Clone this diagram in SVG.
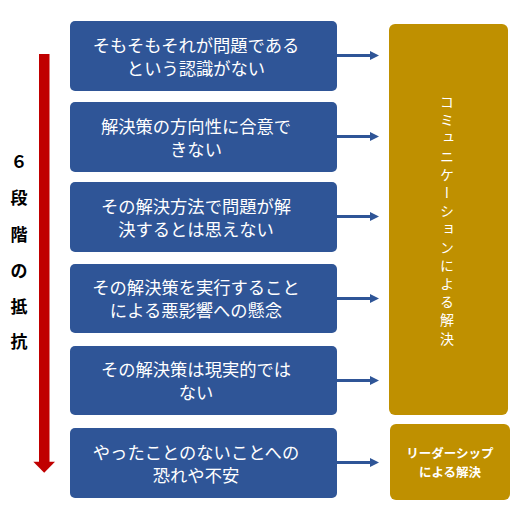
<svg xmlns="http://www.w3.org/2000/svg" width="521" height="514" viewBox="0 0 521 514">
<style>
.box{fill:#2F5597;}
.gold{fill:#BF9000;}
.t{font-family:"Noto Sans CJK JP","Noto Sans CJK SC",sans-serif;font-size:17.3px;fill:#FFFFFF;text-anchor:middle;}
.lt{font-family:"Noto Sans CJK JP","Noto Sans CJK SC",sans-serif;font-size:17px;font-weight:bold;fill:#000000;text-anchor:middle;}
.vt{font-family:"Noto Sans CJK JP","Noto Sans CJK SC",sans-serif;font-size:14px;fill:#FFFFFF;text-anchor:middle;writing-mode:vertical-rl;letter-spacing:4.2px;}
.st{font-family:"Noto Sans CJK JP","Noto Sans CJK SC",sans-serif;font-size:12.5px;font-weight:bold;fill:#FFFFFF;text-anchor:middle;}
.conn{stroke:#2F5597;stroke-width:3;fill:none;marker-end:url(#ah);}
</style>
<defs>
<marker id="ah" viewBox="0 0 10 10" refX="0" refY="5" markerUnits="userSpaceOnUse" markerWidth="9" markerHeight="9" orient="auto">
<path d="M0,0 L10,5 L0,10 Z" fill="#2F5597"/>
</marker>
</defs>
<rect width="521" height="514" fill="#FFFFFF"/>
<g id="resistance-arrow">
<rect x="39" y="54" width="10.5" height="408" fill="#C00000"/>
<path d="M33.3,461.7 L55,461.7 L44.2,472.7 Z" fill="#C00000"/>
</g>
<g id="label-6steps">
<text class="lt" x="19" y="168">６</text>
<text class="lt" x="19" y="204">段</text>
<text class="lt" x="19" y="241">階</text>
<text class="lt" x="19" y="277">の</text>
<text class="lt" x="19" y="313">抵</text>
<text class="lt" x="19" y="348">抗</text>
</g>
<g id="node1">
<rect class="box" x="70" y="21" width="267" height="70" rx="5"/>
<text class="t" x="196" y="51.5">そもそもそれが問題である</text>
<text class="t" x="196" y="74.5">という認識がない</text>
</g>
<g id="node2">
<rect class="box" x="70" y="102" width="267" height="70" rx="5"/>
<text class="t" x="196" y="132.5">解決策の方向性に合意で</text>
<text class="t" x="196" y="155.5">きない</text>
</g>
<g id="node3">
<rect class="box" x="70" y="182" width="267" height="70" rx="5"/>
<text class="t" x="196" y="212.5">その解決方法で問題が解</text>
<text class="t" x="196" y="235.5">決するとは思えない</text>
</g>
<g id="node4">
<rect class="box" x="70" y="264" width="267" height="69" rx="5"/>
<text class="t" x="196" y="294">その解決策を実行すること</text>
<text class="t" x="196" y="317">による悪影響への懸念</text>
</g>
<g id="node5">
<rect class="box" x="70" y="346" width="267" height="69" rx="5"/>
<text class="t" x="196" y="376">その解決策は現実的では</text>
<text class="t" x="196" y="399">ない</text>
</g>
<g id="node6">
<rect class="box" x="70" y="428" width="267" height="70" rx="5"/>
<text class="t" x="196" y="458.5">やったことのないことへの</text>
<text class="t" x="196" y="481.5">恐れや不安</text>
</g>
<g id="node-communication">
<rect class="gold" x="389" y="24" width="119" height="391" rx="6"/>
<text class="vt" x="447" y="222">コミュニケーションによる解決</text>
</g>
<g id="node-leadership">
<rect class="gold" x="390" y="424" width="120" height="76" rx="6"/>
<text class="st" x="450" y="457.5">リーダーシップ</text>
<text class="st" x="450" y="477">による解決</text>
</g>
<g id="connectors">
<line class="conn" x1="337" y1="55.5" x2="370" y2="55.5"/>
<line class="conn" x1="337" y1="136.5" x2="370" y2="136.5"/>
<line class="conn" x1="337" y1="216.5" x2="370" y2="216.5"/>
<line class="conn" x1="337" y1="298.5" x2="370" y2="298.5"/>
<line class="conn" x1="337" y1="380.5" x2="370" y2="380.5"/>
<line class="conn" x1="337" y1="462.5" x2="370" y2="462.5"/>
</g>
</svg>
